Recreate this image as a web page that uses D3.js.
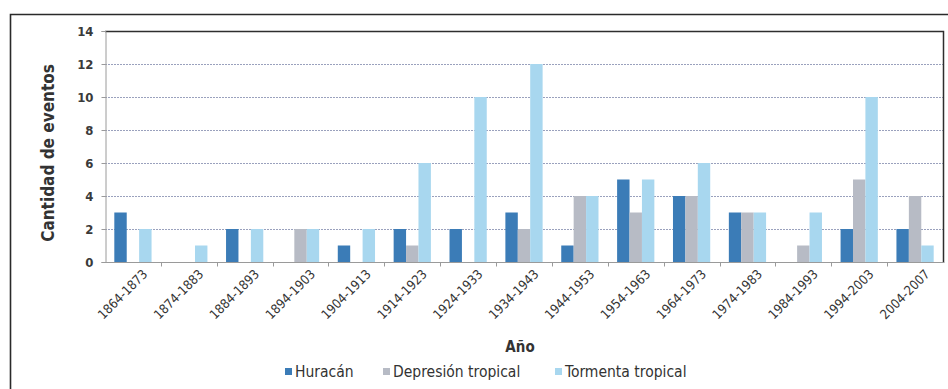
<!DOCTYPE html>
<html>
<head>
<meta charset="utf-8">
<script src="https://cdn.jsdelivr.net/npm/d3@7"></script>
<style>
  html, body { margin: 0; padding: 0; background: #fff; }
  svg { display: block; }
  text { font-family: "Liberation Sans Narrow", "DejaVu Sans Condensed", "Arial Narrow", sans-serif; }
</style>
</head>
<body>
<svg id="chart" width="948" height="389"></svg>
<script>
// Periods (decades) on the x axis
const periods = ["1864-1873","1874-1883","1884-1893","1894-1903","1904-1913","1914-1923",
  "1924-1933","1934-1943","1944-1953","1954-1963","1964-1973","1974-1983","1984-1993",
  "1994-2003","2004-2007"];
// Number of events per period, one array per event type
const huracan   = [3, 0, 2, 0, 1, 2, 2, 3, 1, 5, 4, 3, 0, 2, 2];
const depresion = [0, 0, 0, 2, 0, 1, 0, 2, 4, 3, 4, 3, 1, 5, 4];
const tormenta  = [2, 1, 2, 2, 2, 6, 10, 12, 4, 5, 6, 3, 3, 10, 1];
const seriesNames = ["Huracán", "Depresión tropical", "Tormenta tropical"];
const yTicks = [0, 2, 4, 6, 8, 10, 12, 14];

const seriesValues = [huracan, depresion, tormenta];
const colors = ["#3b7cb7", "#b7bbc5", "#a8d7ef"];

const svg = d3.select("#chart");
const plotL = 105, plotR = 943, plotT = 31, plotB = 262;

const x0 = d3.scaleBand().domain(periods).range([plotL, plotR]).padding(0);
const x1 = d3.scaleBand().domain(d3.range(3)).range([0, x0.bandwidth()])
  .paddingInner(0).paddingOuter(0.75);
const y = d3.scaleLinear().domain([0, 14]).range([plotB, plotT]);

// Outer chart frame
svg.append("path")
  .attr("d", "M10.5,400 L10.5,14.5 L960,14.5")
  .attr("fill", "none").attr("stroke", "#2a2a2a").attr("stroke-width", 1.6);

// Horizontal gridlines
svg.append("g").selectAll("line")
  .data(yTicks.filter(t => t > 0 && t < 14))
  .join("line")
  .attr("x1", plotL).attr("x2", plotR)
  .attr("y1", d => Math.round(y(d)) + 0.5).attr("y2", d => Math.round(y(d)) + 0.5)
  .attr("stroke", "#9aa1bd").attr("stroke-width", 1).attr("stroke-dasharray", "2,1");

// Bars
const groups = svg.append("g").selectAll("g")
  .data(periods)
  .join("g")
  .attr("transform", d => `translate(${x0(d)},0)`);

groups.selectAll("rect")
  .data((d, i) => seriesValues.map((vals, s) => ({ s, v: vals[i] })))
  .join("rect")
  .attr("x", d => x1(d.s))
  .attr("width", x1.bandwidth())
  .attr("y", d => y(d.v))
  .attr("height", d => y(0) - y(d.v))
  .attr("fill", d => colors[d.s]);

// Plot area border: dark top and right edges
svg.append("path")
  .attr("d", `M${plotL},${plotT + 0.5} L${plotR + 0.5},${plotT + 0.5} L${plotR + 0.5},${plotB + 1}`)
  .attr("fill", "none").attr("stroke", "#2e2e2e").attr("stroke-width", 1.5);

// Y axis
const yAxis = svg.append("g")
  .attr("transform", `translate(${plotL + 0.5},0)`)
  .call(d3.axisLeft(y).tickValues(yTicks).tickSize(4).tickPadding(8));
yAxis.select(".domain").attr("stroke", "#9a9a9a");
yAxis.selectAll(".tick line").attr("stroke", "#9a9a9a");
yAxis.selectAll(".tick text")
  .attr("font-size", 13).attr("font-weight", "bold").attr("fill", "#3a3a3a")
  .style("font-family", "'Liberation Sans Narrow', 'DejaVu Sans Condensed', sans-serif");

// X axis with ticks between categories
const xAxis = svg.append("g").attr("transform", `translate(0,${plotB + 0.5})`);
xAxis.append("line").attr("x1", plotL).attr("x2", plotR + 1)
  .attr("stroke", "#9a9a9a");
xAxis.selectAll("line.tk")
  .data(periods.slice(1))
  .join("line").attr("class", "tk")
  .attr("x1", d => Math.round(x0(d)) + 0.5).attr("x2", d => Math.round(x0(d)) + 0.5)
  .attr("y1", 0).attr("y2", 4).attr("stroke", "#9a9a9a");
xAxis.selectAll("text")
  .data(periods)
  .join("text")
  .attr("transform", d => `translate(${x0(d) + x0.bandwidth() / 2 + 9},${6}) rotate(-45)`)
  .attr("text-anchor", "end")
  .attr("dy", "0.7em")
  .attr("font-size", 13)
  .attr("fill", "#333")
  .text(d => d);

// Axis titles
svg.append("text")
  .attr("transform", `translate(54,153) rotate(-90)`)
  .attr("text-anchor", "middle")
  .attr("font-size", 17).attr("font-weight", "bold").attr("fill", "#333")
  .text("Cantidad de eventos");

svg.append("text")
  .attr("x", 520).attr("y", 352)
  .attr("text-anchor", "middle")
  .attr("font-size", 15).attr("font-weight", "bold").attr("fill", "#333")
  .text("Año");

// Legend
const legendX = [285, 383, 555];
const legend = svg.append("g").selectAll("g")
  .data(seriesNames)
  .join("g")
  .attr("transform", (d, i) => `translate(${legendX[i]},0)`);
legend.append("rect")
  .attr("x", 0).attr("y", 368).attr("width", 7).attr("height", 7)
  .attr("fill", (d, i) => colors[i]);
legend.append("text")
  .attr("x", 10).attr("y", 377)
  .attr("font-size", 15.5).attr("fill", "#333")
  .text(d => d);
</script>
</body>
</html>
